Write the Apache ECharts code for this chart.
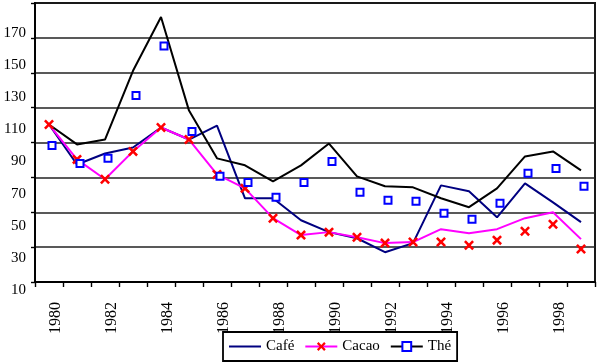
<!DOCTYPE html>
<html><head><meta charset="utf-8">
<script src="https://cdn.jsdelivr.net/npm/echarts@6/dist/echarts.min.js"></script>
<style>html,body{margin:0;padding:0;background:#fff}#c{width:600px;height:364px}</style>
</head><body><div id="c"></div>
<script>
const years = ['1980','1981','1982','1983','1984','1985','1986','1987','1988','1989','1990','1991','1992','1993','1994','1995','1996','1997','1998','1999'];
const yTickLabels = [10, 30, 50, 70, 90, 110, 130, 150, 170];
const cafe       = [120.3, 97.4, 103.7, 107.1, 118.6, 111.7, 119.7, 78.0, 78.0, 65.4, 58.6, 55.1, 47.1, 52.3, 85.4, 82.0, 67.1, 86.6, 75.7, 64.3];
const cacaoLine  = [120.3, 100.3, 88.9, 104.9, 118.6, 111.7, 91.7, 83.7, 66.6, 56.9, 58.6, 55.7, 52.3, 52.9, 60.3, 58.0, 60.3, 66.6, 70.0, 54.6];
const cacaoMarks = [120.3, 100.3, 88.9, 104.9, 118.6, 111.7, 91.7, 83.7, 66.6, 56.9, 58.6, 55.7, 52.3, 52.9, 52.9, 51.1, 54.0, 59.1, 63.1, 48.9];
const theLine    = [120.3, 108.9, 111.7, 151.1, 182.0, 128.3, 100.9, 96.9, 87.7, 96.9, 109.4, 90.6, 84.9, 84.3, 78.0, 72.9, 83.7, 102.0, 104.9, 94.0];
const theMarks   = [108.3, 98.0, 100.9, 136.9, 165.4, 116.3, 90.6, 87.1, 78.6, 87.1, 99.1, 81.4, 76.9, 76.3, 69.4, 66.0, 75.1, 92.3, 95.1, 84.9];

const FONT = 'Liberation Serif';
const XSYM = 'path://M0,1.8L1.8,0L5,3.2L8.2,0L10,1.8L6.8,5L10,8.2L8.2,10L5,6.8L1.8,10L0,8.2L3.2,5Z';

const chart = echarts.init(document.getElementById('c'), null, {renderer: 'canvas'});
chart.setOption({
  animation: false,
  backgroundColor: '#fff',
  grid: [
    {left: 35, right: 5, top: 3, bottom: 82, show: true, borderColor: '#000', borderWidth: 1.8, backgroundColor: 'transparent'},
    {left: 35, right: 5, top: 33, bottom: 74, show: false}
  ],
  xAxis: [
    {type: 'category', gridIndex: 0, data: years, boundaryGap: true,
     axisLine: {lineStyle: {color: '#000', width: 1.8}},
     axisTick: {show: true, interval: 0, length: 5, lineStyle: {color: '#000', width: 1.4}},
     axisLabel: {interval: 1, rotate: 90, margin: 20, verticalAlign: 'top', lineHeight: 13, color: '#000', fontFamily: FONT, fontSize: 16},
     splitLine: {show: false}},
    {type: 'value', gridIndex: 1, show: false}
  ],
  yAxis: [
    {type: 'value', gridIndex: 0, min: 30, max: 190, interval: 20,
     axisLine: {show: true, lineStyle: {color: '#000', width: 1.8}},
     axisTick: {show: true, length: 4, lineStyle: {color: '#000', width: 1.4}},
     axisLabel: {show: false},
     splitLine: {show: true, lineStyle: {color: '#222', width: 1.7}}},
    {type: 'value', gridIndex: 1, min: yTickLabels[0], max: yTickLabels[yTickLabels.length - 1], interval: 20,
     axisLine: {show: false}, axisTick: {show: false}, splitLine: {show: false},
     axisLabel: {show: true, margin: 9, color: '#000', fontFamily: FONT, fontSize: 15}}
  ],
  legend: {
    left: 223, top: 332,
    data: [
      {name: 'Café', itemStyle: {opacity: 0}},
      {name: 'Cacao'},
      {name: 'Thé'}
    ],
    borderColor: '#000', borderWidth: 1.8, padding: [7, 6, 7, 5],
    itemWidth: 32, itemHeight: 11, itemGap: 10,
    textStyle: {color: '#000', fontFamily: FONT, fontSize: 15}
  },
  series: [
    {name: 'Café', type: 'line', data: cafe, symbol: 'none', z: 3,
     lineStyle: {color: '#000080', width: 2}, itemStyle: {color: '#000080'}},
    {name: 'Cacao', type: 'line', data: cacaoLine, symbol: XSYM, showSymbol: false, z: 3,
     lineStyle: {color: '#ff00ff', width: 2}, itemStyle: {color: '#ff0000'}},
    {name: 'Thé', type: 'line', data: theLine, symbol: 'emptyRect', showSymbol: false, z: 3,
     lineStyle: {color: '#000000', width: 2}, itemStyle: {color: '#0000ff'}},
    {name: 'Cacao', type: 'scatter', data: cacaoMarks, symbol: XSYM, symbolSize: 10, z: 5,
     itemStyle: {color: '#ff0000', opacity: 1}},
    {name: 'Thé', type: 'scatter', data: theMarks, symbol: 'rect', symbolSize: 7, symbolOffset: [3, 0], z: 5,
     itemStyle: {color: '#ffffff', borderColor: '#0000ff', borderWidth: 2, opacity: 1}}
  ]
});
</script>
</body></html>
